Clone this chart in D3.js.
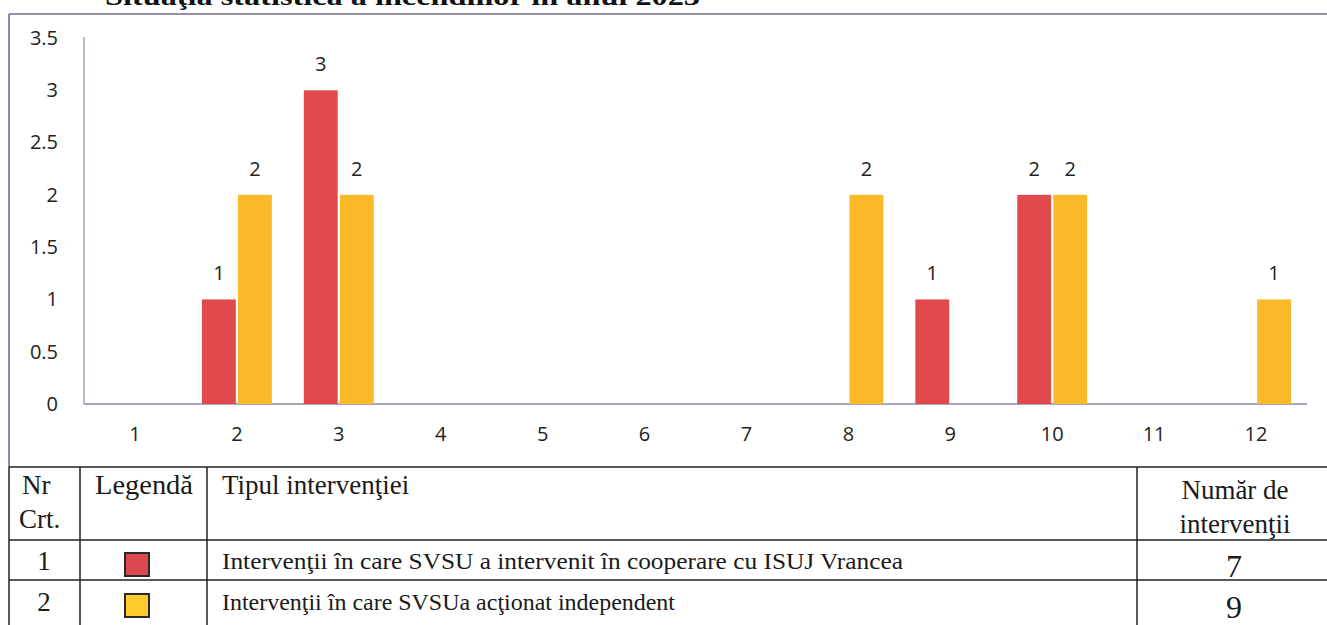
<!DOCTYPE html>
<html>
<head>
<meta charset="utf-8">
<script src="https://cdn.jsdelivr.net/npm/d3@7"></script>
<style>
  html, body { margin: 0; padding: 0; background: #fff; }
  svg { display: block; }
</style>
</head>
<body>
<svg id="chart" width="1327" height="625"></svg>
<script>
// ---------- data ----------
const categories = ["1","2","3","4","5","6","7","8","9","10","11","12"];
const seriesNames = ["Intervenţii în care SVSU a intervenit în cooperare cu ISUJ Vrancea",
                     "Intervenţii în care SVSUa acţionat  independent"];
const cooperareValues   = [0, 1, 3, 0, 0, 0, 0, 0, 1, 2, 0, 0];
const independentValues = [0, 2, 2, 0, 0, 0, 0, 2, 0, 2, 0, 1];
const yTickValues = [0, 0.5, 1, 1.5, 2, 2.5, 3, 3.5];
const yTickLabels = ["0", "0.5", "1", "1.5", "2", "2.5", "3", "3.5"];
const totals = [7, 9];
const titleText = "Situaţia statistică  a incendiilor în anul 2023";
const headerCols = [["Nr", "Crt."], ["Legendă"], ["Tipul intervenţiei"], ["Număr de", "intervenţii"]];

// ---------- setup ----------
const svg = d3.select("#chart");
const W = 1327, H = 625;
svg.append("rect").attr("width", W).attr("height", H).attr("fill", "#fff");

const barColors = ["#E2494D", "#FBB92A"];
const legendColors = ["#DC484D", "#FFCB2C"];
const frameColor = "#6f6d92";
const chartFont = "'Open Sans', sans-serif";
const serif = "'Liberation Serif', 'Times New Roman', serif";

// title (cut off at top of page, as in the scanned page)
svg.append("text")
  .attr("x", 105).attr("y", 5)
  .attr("font-family", serif).attr("font-weight", "bold")
  .attr("font-size", 26)
  .attr("textLength", 595).attr("lengthAdjust", "spacingAndGlyphs")
  .attr("fill", "#111")
  .text(titleText);

// chart frame (top + left)
svg.append("line").attr("x1", 9).attr("x2", W).attr("y1", 14).attr("y2", 14)
  .attr("stroke", frameColor).attr("stroke-width", 1.6);
svg.append("line").attr("x1", 9).attr("x2", 9).attr("y1", 14).attr("y2", 467)
  .attr("stroke", frameColor).attr("stroke-width", 1.6);

// ---------- scales ----------
const x0 = d3.scaleBand().domain(categories).range([84, 1307])
  .paddingInner(0.314).paddingOuter(0.157);
const x1 = d3.scaleBand().domain([0, 1]).range([0, x0.bandwidth()]).paddingInner(0.06);
const y = d3.scaleLinear().domain([0, 3.5]).range([404, 38]);

// axes lines
svg.append("line").attr("x1", 84).attr("x2", 84).attr("y1", y(3.5) - 1).attr("y2", y(0))
  .attr("stroke", "#8a88ab").attr("stroke-width", 1.2);
svg.append("line").attr("x1", 84).attr("x2", 1307).attr("y1", y(0)).attr("y2", y(0))
  .attr("stroke", "#8a88ab").attr("stroke-width", 1.4);

// y axis labels
const yAxis = d3.axisLeft(y).tickValues(yTickValues)
  .tickFormat((d, i) => yTickLabels[i]).tickSize(0).tickPadding(26);
const gy = svg.append("g").attr("transform", "translate(84,0)").call(yAxis);
gy.select(".domain").remove();
gy.selectAll("text").attr("font-family", chartFont).attr("font-size", 20).attr("fill", "#222");

// x axis labels
const xAxis = d3.axisBottom(x0).tickSize(0).tickPadding(23);
const gx = svg.append("g").attr("transform", `translate(0,${y(0)})`).call(xAxis);
gx.select(".domain").remove();
gx.selectAll("text").attr("font-family", chartFont).attr("font-size", 20).attr("fill", "#222");

// bars
const series = [cooperareValues, independentValues];
const barData = [];
categories.forEach((c, i) => {
  series.forEach((vals, s) => barData.push({ cat: c, s: s, v: vals[i] }));
});
const nonZero = barData.filter(d => d.v > 0);

svg.append("g").selectAll("rect").data(nonZero).join("rect")
  .attr("x", d => x0(d.cat) + x1(d.s))
  .attr("width", x1.bandwidth())
  .attr("y", d => y(d.v))
  .attr("height", d => y(0) - y(d.v))
  .attr("fill", d => barColors[d.s]);

svg.append("g").selectAll("text").data(nonZero).join("text")
  .attr("x", d => x0(d.cat) + x1(d.s) + x1.bandwidth() / 2)
  .attr("y", d => y(d.v) - 19)
  .attr("text-anchor", "middle")
  .attr("font-family", chartFont).attr("font-size", 20).attr("fill", "#222")
  .text(d => d.v);

// ---------- table ----------
const tbl = svg.append("g");
const colX = [9, 80, 207, 1137];
const rowY = [467, 540, 580];
const lineColor = "#222";
rowY.forEach(yy => tbl.append("line")
  .attr("x1", 9).attr("x2", W).attr("y1", yy).attr("y2", yy)
  .attr("stroke", lineColor).attr("stroke-width", 1.5));
colX.forEach(xx => tbl.append("line")
  .attr("x1", xx).attr("x2", xx).attr("y1", 467).attr("y2", H)
  .attr("stroke", lineColor).attr("stroke-width", 1.5));

const hdr = tbl.append("g").attr("font-family", serif).attr("font-size", 27).attr("fill", "#1a1a1a");
hdr.append("text").attr("x", 22).attr("y", 494).text(headerCols[0][0]);
hdr.append("text").attr("x", 19).attr("y", 528).text(headerCols[0][1]);
hdr.append("text").attr("x", 95).attr("y", 494).attr("textLength", 98).attr("lengthAdjust", "spacingAndGlyphs").text(headerCols[1][0]);
hdr.append("text").attr("x", 222).attr("y", 494).text(headerCols[2][0]);
hdr.append("text").attr("x", 1235).attr("y", 499).attr("text-anchor", "middle").text(headerCols[3][0]);
hdr.append("text").attr("x", 1235).attr("y", 533).attr("text-anchor", "middle").text(headerCols[3][1]);

const rowBase = [570, 611];
const rowTextLen = [681, 453];
seriesNames.forEach((name, i) => {
  tbl.append("text").attr("x", 44).attr("y", rowBase[i]).attr("text-anchor", "middle")
    .attr("font-family", serif).attr("font-size", 27).attr("fill", "#1a1a1a").text(i + 1);
  tbl.append("rect").attr("x", 125).attr("y", rowBase[i] - 17).attr("width", 24).attr("height", 23)
    .attr("fill", legendColors[i]).attr("stroke", "#2a2a2a").attr("stroke-width", 2);
  tbl.append("text").attr("x", 222).attr("y", rowBase[i] - 1)
    .attr("font-family", serif).attr("font-size", 23).attr("fill", "#1a1a1a")
    .attr("textLength", rowTextLen[i]).attr("lengthAdjust", "spacingAndGlyphs")
    .text(name);
  tbl.append("text").attr("x", 1234).attr("y", rowBase[i] + 7).attr("text-anchor", "middle")
    .attr("font-family", serif).attr("font-size", 32).attr("fill", "#1a1a1a").text(totals[i]);
});
</script>
</body>
</html>
